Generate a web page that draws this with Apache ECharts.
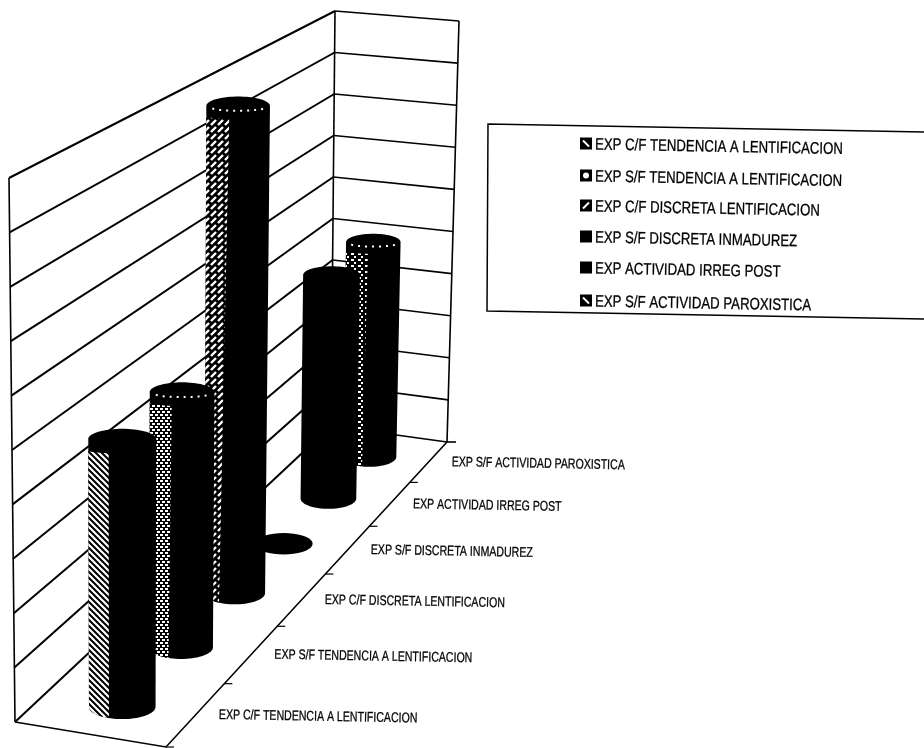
<!DOCTYPE html>
<html>
<head>
<meta charset="utf-8">
<style>html,body{margin:0;padding:0;background:#fff}#chart{width:924px;height:748px}</style>
<script src="https://cdn.jsdelivr.net/npm/echarts@6/dist/echarts.min.js"></script>
</head>
<body>
<div id="chart"></div>
<script>
// Categories run from the front of the floor to the back wall.
const categories = [
  'EXP C/F TENDENCIA A LENTIFICACION',
  'EXP S/F TENDENCIA A LENTIFICACION',
  'EXP C/F DISCRETA LENTIFICACION',
  'EXP S/F DISCRETA INMADUREZ',
  'EXP ACTIVIDAD IRREG POST',
  'EXP S/F ACTIVIDAD PAROXISTICA'
];
const values = [5, 5, 10, 0, 5, 5];
const valueTicks = [0, 1, 2, 3, 4, 5, 6, 7, 8, 9, 10];
const axisMax = 10;

// Box of the 3D scene on the page: floor and ceiling corners.
const FLOOR = { fl: [15, 722], fr: [166, 747], bl: [331, 426], br: [447, 442] };
const CEIL = { fl: [9, 178], fr: [170, 202], bl: [335, 11], br: [459, 21] };
const FAR_WEIGHT = 1.31;   // perspective foreshortening along the depth axis
const TEXT_TILT = -0.018;  // the text baseline falls slightly to the right

const FONT = '"Liberation Sans", Arial, sans-serif';

const lerp = (a, b, k) => [a[0] + (b[0] - a[0]) * k, a[1] + (b[1] - a[1]) * k];

// depth t (0 front .. 1 back), width u (0 left wall .. 1 right), height h (0 .. 1)
function project(t, u, h) {
  const s = t * FAR_WEIGHT / ((1 - t) + t * FAR_WEIGHT);
  const floor = lerp(lerp(FLOOR.fl, FLOOR.bl, s), lerp(FLOOR.fr, FLOOR.br, s), u);
  const ceil = lerp(lerp(CEIL.fl, CEIL.bl, s), lerp(CEIL.fr, CEIL.br, s), u);
  return lerp(floor, ceil, h);
}

// The hidden cartesian grid maps (category, value) onto the unit depth/height square.
function toUnit(params, api, cat, val) {
  const c = api.coord([cat, val]);
  const g = params.coordSys;
  return { t: (c[0] - g.x) / g.width, h: (g.y + g.height - c[1]) / g.height };
}

function tile(w, h, draw) {
  const cv = document.createElement('canvas');
  cv.width = w; cv.height = h;
  const ctx = cv.getContext('2d');
  ctx.fillStyle = '#000';
  ctx.fillRect(0, 0, w, h);
  ctx.strokeStyle = '#fff';
  ctx.fillStyle = '#fff';
  draw(ctx);
  return { image: cv, repeat: 'repeat' };
}
const backHatch = () => tile(6, 6, c => {
  c.lineWidth = 2.2;
  c.beginPath();
  c.moveTo(-1, -1); c.lineTo(7, 7);
  c.moveTo(-1, 5); c.lineTo(1, 7);
  c.moveTo(5, -1); c.lineTo(7, 1);
  c.stroke();
});
const dotGrid = () => tile(5, 6, c => {
  c.fillRect(0, 0, 3, 2);
  c.fillRect(2, 3, 3, 2);
});
const slashes = () => tile(7, 7, c => {
  c.lineWidth = 2.4;
  c.beginPath();
  c.moveTo(1, 6); c.lineTo(6, 1);
  c.stroke();
});
const specks = () => tile(7, 6, c => {
  c.fillRect(1, 1, 3, 2);
  c.fillRect(4, 4, 2, 2);
});
const bandFills = [backHatch(), dotGrid(), slashes(), null, null, specks()];
// Share of the cylinder's width covered by the lit band, at its top and bottom.
const bandWidths = [[0.30, 0.30], [0.34, 0.30], [0.36, 0.24], [0, 0], [0, 0], [0.40, 0.36]];
const rimDashes = [false, true, true, false, false, true];
const swatchGlyphs = ['back', 'dot', 'slash', null, null, 'back'];

// Bases sit slightly in front of the floor plane; the full scale still reaches the ceiling.
const standHeight = h => h * 1.008 - 0.008;

function renderCylinder(params, api) {
  const cat = api.value(0), val = api.value(1);
  const base = toUnit(params, api, cat, 0);
  const top = toUnit(params, api, cat, val);
  const b = project(base.t, 0.5, standHeight(0));
  const a = project(base.t, 0.5, standHeight(top.h));
  const width = project(base.t, 1, 0)[0] - project(base.t, 0, 0)[0];
  const rx = width * 0.226, ryB = rx * 0.37, ryT = rx * 0.31;
  const rxT = rx * (val > 7 ? 1.05 : 1.02);
  const N = 36;
  const arc = (c, rX, rY, from, to) => {
    const pts = [];
    for (let i = 0; i <= N; i++) {
      const an = from + (to - from) * i / N;
      pts.push([c[0] + rX * Math.cos(an), c[1] + rY * Math.sin(an)]);
    }
    return pts;
  };
  const children = [];
  if (val === 0) {
    children.push({ type: 'polygon', shape: { points: arc(b, rx, ryB, 0, Math.PI * 2) }, style: { fill: '#000' } });
  } else {
    const body = arc(a, rxT, ryT, Math.PI, Math.PI * 2).concat(arc(b, rx, ryB, 0, Math.PI));
    children.push({ type: 'polygon', shape: { points: body }, style: { fill: '#000' } });
    const band = bandFills[cat];
    if (band) {
      // Lit band down the left side, bounded by the front arcs of both rims.
      const wT = bandWidths[cat][0], wB = bandWidths[cat][1];
      const angT = Math.acos(1 - 2 * wT), angB = Math.acos(1 - 2 * wB);
      const inset = [a[0], a[1] + ryT + 1];
      const upper = arc(inset, rxT, ryT * 0.3, Math.PI, Math.PI - angT);
      const lower = arc(b, rx, ryB, Math.PI - angB, Math.PI);
      children.push({ type: 'polygon', shape: { points: upper.concat(lower) }, style: { fill: band } });
    }
    if (rimDashes[cat]) {
      children.push({
        type: 'polyline',
        shape: { points: arc([a[0], a[1] + 2], rxT * 0.82, ryT * 0.3, Math.PI * 0.95, Math.PI * 0.05) },
        style: { stroke: '#fff', fill: 'none', lineWidth: 2, lineDash: [2, 5] }
      });
    }
  }
  return { type: 'group', children };
}

// One horizontal gridline across the left and right walls.
function renderWallLine(params, api) {
  const { h } = toUnit(params, api, 0, api.value(0));
  return {
    type: 'group',
    children: [
      { type: 'polyline', shape: { points: [project(0, 0, h), project(1, 0, h)] },
        style: { stroke: '#000', fill: 'none', lineWidth: 2 } },
      { type: 'polyline', shape: { points: [project(1, 0, h), project(1, 1, h)] },
        style: { stroke: '#000', fill: 'none', lineWidth: 1.6 } }
    ]
  };
}

// Vertical wall edges, floor outline, depth ticks and category labels.
function renderFloor(params, api) {
  const cat = api.value(0);
  const { t } = toUnit(params, api, cat, 0);
  const half = api.size([1, 0])[0] / params.coordSys.width / 2;
  const anchor = project(t, 1, 0);
  const tickAt = project(t - half, 1, 0);
  const children = [
    { type: 'polyline', shape: { points: [tickAt, [tickAt[0] + 8, tickAt[1]]] },
      style: { stroke: '#000', fill: 'none', lineWidth: 1.2 } },
    { type: 'text', x: anchor[0] + 23, y: anchor[1] + 0.5, scaleX: 0.755, rotation: TEXT_TILT,
      style: { text: categories[cat], x: 0, y: 0, stroke: '#000', lineWidth: 0.3,
        font: '14px ' + FONT, fill: '#000', align: 'left', verticalAlign: 'middle' } }
  ];
  if (cat === 0) {
    const line = pts => ({ type: 'polyline', shape: { points: pts },
      style: { stroke: '#000', fill: 'none', lineWidth: 1.6 } });
    const corner = project(1, 1, 0);
    children.push(
      line([project(0, 0, 0), project(0, 0, 1)]),
      line([project(1, 0, 0), project(1, 0, 1)]),
      line([corner, project(1, 1, 1)]),
      line([project(0, 0, 0), project(0, 1, 0), corner]),
      line([corner, [corner[0] + 9, corner[1]]])
    );
  }
  return { type: 'group', children };
}

// Key box: patterned swatch and narrowed caption per category, on the same slight tilt.
const keyRows = [145, 177, 207, 238, 269, 302];
const keyElements = [{
  type: 'polyline', silent: true,
  shape: { points: [[924, 132], [488, 124], [487, 311], [924, 319]] },
  style: { stroke: '#000', fill: 'none', lineWidth: 1.5 }
}];
categories.forEach((name, i) => {
  const cy = keyRows[i] - 1.5;
  keyElements.push(
    { type: 'rect', silent: true, shape: { x: 580, y: cy - 6, width: 12, height: 12 }, style: { fill: '#000' } },
    { type: 'text', silent: true, x: 595, y: keyRows[i], scaleX: 0.8, rotation: TEXT_TILT,
      style: { text: name, x: 0, y: 0, font: '16.5px ' + FONT, fill: '#000', stroke: '#000', lineWidth: 0.3,
        align: 'left', verticalAlign: 'middle' } }
  );
  const glyph = swatchGlyphs[i];
  if (glyph === 'dot') {
    keyElements.push({ type: 'circle', silent: true, shape: { cx: 586, cy, r: 3 }, style: { fill: '#fff' } });
  } else if (glyph) {
    const d = glyph === 'back' ? 3 : -3;
    keyElements.push({ type: 'line', silent: true, z: 1,
      shape: { x1: 583, y1: cy - d, x2: 589, y2: cy + d },
      style: { stroke: '#fff', lineWidth: 2 } });
  }
});

const series = [
  { type: 'custom', name: 'walls', z: 1, silent: true, data: valueTicks.map(v => [v]),
    encode: { y: 0 }, renderItem: renderWallLine, clip: false },
  { type: 'custom', name: 'floor', z: 2, silent: true, data: categories.map((c, i) => [i]),
    encode: { x: 0 }, renderItem: renderFloor, clip: false }
];
categories.forEach((name, i) => {
  series.push({
    type: 'custom', name, z: 10 + categories.length - i, silent: true,
    data: [[i, values[i]]], encode: { x: 0, y: 1 }, renderItem: renderCylinder, clip: false
  });
});

const chart = echarts.init(document.getElementById('chart'), null, { renderer: 'canvas' });
chart.setOption({
  animation: false,
  backgroundColor: '#fff',
  grid: { left: 0, right: 0, top: 0, bottom: 0 },
  xAxis: { type: 'category', data: categories, show: false },
  yAxis: { type: 'value', min: 0, max: axisMax, interval: 1, show: false },
  graphic: keyElements,
  series
});
</script>
</body>
</html>
